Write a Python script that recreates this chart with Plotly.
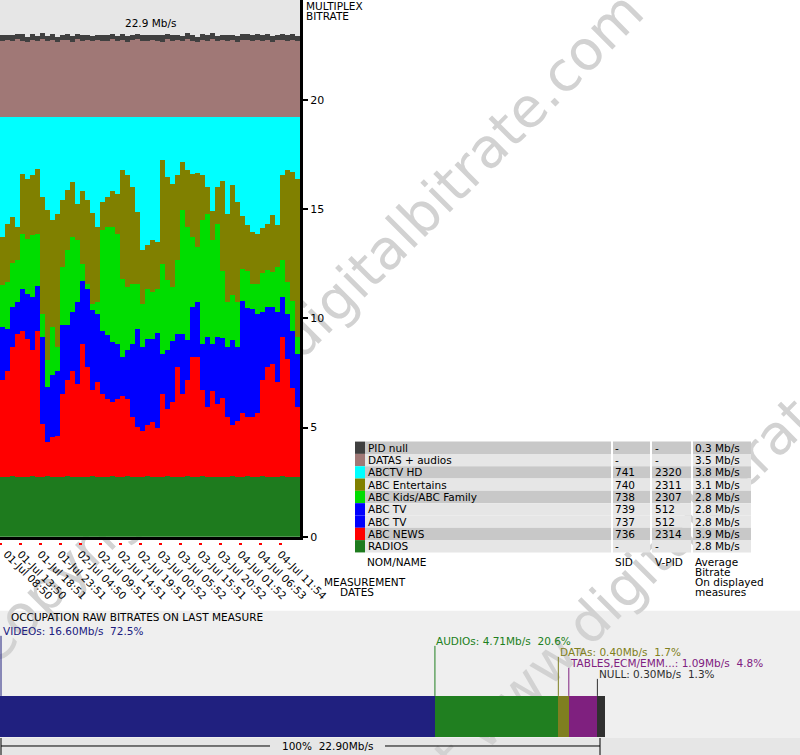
import base64
import plotly.graph_objects as go

# reference pixel space
W, H = 800, 755
# rendered figure size (the photograph compresses the page height slightly)
FIG_W, FIG_H = 800, 763
FONT = "DejaVu Sans"
FS = 10.5

# ---------------- data ----------------
tick_labels = ["01-Jul 08:50", "01-Jul 13:50", "01-Jul 18:51", "01-Jul 23:51",
               "02-Jul 04:50", "02-Jul 09:51", "02-Jul 14:51", "02-Jul 19:51",
               "03-Jul 00:52", "03-Jul 05:52", "03-Jul 15:51", "03-Jul 20:52",
               "04-Jul 01:52", "04-Jul 06:53", "04-Jul 11:54"]

radios = [2.75, 2.74, 2.76, 2.75, 2.73, 2.75, 2.76, 2.74, 2.75, 2.77,
          2.75, 2.74, 2.75, 2.76, 2.74, 2.75, 2.73, 2.75, 2.76, 2.75,
          2.74, 2.75, 2.77, 2.75, 2.74, 2.76, 2.75, 2.74, 2.75, 2.76,
          2.75, 2.73, 2.75, 2.76, 2.74, 2.75, 2.75, 2.77, 2.74, 2.75,
          2.76, 2.75, 2.74, 2.75, 2.73, 2.75, 2.76, 2.75, 2.74, 2.77,
          2.75, 2.74, 2.76, 2.75, 2.75, 2.74, 2.76, 2.75, 2.73, 2.75]
abc_news = [4.41, 4.86, 5.94, 6.55, 6.70, 6.32, 5.78, 6.70, 2.42, 1.58,
            1.81, 1.88, 3.79, 4.41, 4.86, 4.25, 6.09, 5.02, 3.95, 4.33,
            3.79, 3.57, 3.41, 3.57, 3.72, 3.57, 2.72, 2.27, 2.11, 2.34,
            2.49, 2.27, 3.79, 3.11, 3.41, 5.02, 3.79, 4.41, 5.48, 5.48,
            3.95, 3.18, 3.95, 3.34, 3.64, 2.72, 2.34, 2.57, 2.95, 2.72,
            2.72, 2.95, 4.41, 5.02, 5.17, 4.33, 6.39, 5.40, 4.10, 3.18]
abc_tv_737 = [1.19, 0.94, 0.93, 0.71, 0.94, 1.04, 1.21, 1.01, 1.96, 1.24,
              1.43, 1.46, 1.59, 1.24, 1.35, 1.85, 1.46, 1.77, 1.82, 1.55,
              1.44, 1.46, 1.35, 1.27, 0.86, 1.09, 1.67, 2.24, 1.93, 1.97,
              1.90, 2.16, 0.91, 1.34, 1.40, 0.75, 1.37, 0.91, 1.13, 1.25,
              1.06, 1.59, 1.08, 1.51, 1.36, 1.59, 1.94, 1.67, 2.55, 2.47,
              2.47, 2.24, 1.55, 1.36, 1.29, 1.59, 0.91, 1.02, 1.29, 1.21]
abc_tv_739 = [1.25, 0.98, 0.90, 0.74, 0.97, 1.02, 1.24, 1.05, 2.01, 1.28,
              1.40, 1.52, 1.55, 1.28, 1.33, 1.90, 1.44, 1.82, 1.85, 1.58,
              1.47, 1.44, 1.40, 1.25, 0.90, 1.12, 1.70, 2.27, 1.90, 2.01,
              1.93, 2.19, 0.93, 1.33, 1.43, 0.78, 1.39, 0.92, 1.16, 1.27,
              1.08, 1.62, 1.06, 1.54, 1.39, 1.63, 1.96, 1.70, 2.58, 2.50,
              2.50, 2.27, 1.58, 1.39, 1.31, 1.62, 0.93, 1.04, 1.31, 1.24]
abc_kids = [1.91, 2.13, 1.99, 1.91, 2.52, 2.52, 2.83, 2.37, 1.07, 1.22,
            2.21, 1.08, 2.67, 3.44, 3.44, 2.83, 0.77, 0.23, 0.30, 0.54,
            4.59, 4.97, 5.28, 5.04, 3.59, 2.91, 2.75, 2.06, 1.98, 2.29,
            2.14, 1.99, 4.13, 3.21, 2.45, 3.36, 5.65, 5.20, 3.21, 2.52,
            5.66, 5.66, 4.74, 5.20, 3.06, 2.06, 2.07, 2.06, 1.45, 1.69,
            1.15, 1.38, 1.76, 1.68, 1.61, 2.06, 1.68, 1.46, 1.38, 0.76]
abc_ent = [2.22, 2.68, 2.14, 1.53, 2.75, 2.76, 2.75, 2.99, 5.36, 6.88,
           4.90, 6.11, 3.06, 2.75, 2.52, 1.68, 3.36, 3.82, 4.13, 3.44,
           1.30, 1.38, 1.61, 1.84, 4.97, 5.12, 4.43, 3.29, 2.45, 1.99,
           2.37, 2.14, 4.74, 4.74, 4.74, 3.90, 2.22, 2.60, 2.90, 3.40,
           2.06, 1.22, 1.37, 1.68, 4.13, 4.05, 5.04, 4.59, 2.44, 2.14,
           2.37, 2.29, 2.06, 2.14, 2.59, 1.92, 3.90, 5.12, 5.88, 7.27]
abctv_hd = [5.50, 4.89, 4.58, 5.04, 2.60, 2.82, 2.67, 2.36, 3.66, 4.28,
            4.73, 4.43, 3.82, 3.36, 2.98, 3.97, 3.36, 3.82, 4.43, 5.04,
            3.89, 3.66, 3.43, 3.51, 2.44, 2.67, 3.21, 4.35, 6.11, 5.88,
            5.65, 5.73, 1.98, 2.75, 3.05, 2.67, 2.06, 2.44, 2.60, 2.56,
            2.67, 3.21, 4.28, 3.21, 2.90, 4.43, 3.13, 3.89, 4.51, 4.96,
            5.27, 5.35, 5.12, 4.89, 4.51, 4.96, 2.67, 2.44, 2.52, 2.82]
datas_audios = [3.48, 3.52, 3.45, 3.55, 3.50, 3.43, 3.53, 3.49, 3.56, 3.47,
                3.51, 3.44, 3.54, 3.50, 3.46, 3.57, 3.49, 3.52, 3.45, 3.53,
                3.50, 3.47, 3.55, 3.48, 3.52, 3.44, 3.51, 3.56, 3.49, 3.46,
                3.53, 3.50, 3.45, 3.54, 3.48, 3.52, 3.47, 3.55, 3.50, 3.44,
                3.51, 3.49, 3.56, 3.46, 3.53, 3.48, 3.50, 3.45, 3.54, 3.52,
                3.47, 3.55, 3.49, 3.51, 3.44, 3.53, 3.50, 3.48, 3.56, 3.46]
pid_null = [0.26, 0.24, 0.28, 0.25, 0.30, 0.23, 0.27, 0.25, 0.29, 0.24,
            0.27, 0.25, 0.22, 0.28, 0.26, 0.24, 0.29, 0.25, 0.27, 0.23,
            0.26, 0.28, 0.24, 0.25, 0.30, 0.26, 0.23, 0.27, 0.25, 0.28,
            0.24, 0.26, 0.29, 0.25, 0.27, 0.23, 0.26, 0.28, 0.25, 0.24,
            0.27, 0.25, 0.30, 0.24, 0.26, 0.28, 0.23, 0.27, 0.25, 0.26,
            0.29, 0.24, 0.26, 0.27, 0.25, 0.23, 0.28, 0.26, 0.24, 0.27]

table_names = ["PID null", "DATAS + audios", "ABCTV HD", "ABC Entertains",
               "ABC Kids/ABC Family", "ABC TV", "ABC TV", "ABC NEWS", "RADIOS"]
table_sid = ["-", "-", "741", "740", "738", "739", "737", "736", "-"]
table_vpid = ["-", "-", "2320", "2311", "2307", "512", "512", "2314", "-"]
table_avg = ["0.3 Mb/s", "3.5 Mb/s", "3.8 Mb/s", "3.1 Mb/s", "2.8 Mb/s",
             "2.8 Mb/s", "2.8 Mb/s", "3.9 Mb/s", "2.8 Mb/s"]
table_colors = ["#404040", "#a07876", "#00ffff", "#808000", "#00dd00",
                "#0000ff", "#0000ff", "#ff0000", "#1e7b1e"]
table_rowbg = ["#c8c8c8", "#e6e6e6", "#c8c8c8", "#e6e6e6", "#c8c8c8",
               "#e6e6e6", "#e6e6e6", "#c8c8c8", "#e6e6e6"]

stack_series = [radios, abc_news, abc_tv_737, abc_tv_739, abc_kids,
                abc_ent, abctv_hd, datas_audios, pid_null]
stack_names = ["RADIOS", "ABC NEWS", "ABC TV 737", "ABC TV 739",
               "ABC Kids/ABC Family", "ABC Entertains", "ABCTV HD",
               "DATAS + audios", "PID null"]
stack_colors = ["#1e7b1e", "#ff0000", "#0000ff", "#0000ff", "#00dd00",
                "#808000", "#00ffff", "#a07876", "#404040"]

occ_names = ["VIDEOs", "AUDIOs", "DATAs", "TABLES,ECM/EMM...", "NULL"]
occ_mbps = [16.60, 4.71, 0.40, 1.09, 0.30]
occ_pct = [72.5, 20.6, 1.7, 4.8, 1.3]
occ_colors = ["#20207f", "#207f20", "#7f7f20", "#7f207f", "#303030"]
occ_total = 22.90
mux_label = "22.9 Mb/s"


def fx(p):
    return p / W


def fy(p):
    return 1 - p / H


annotations = []
shapes = []


def text(x, y, s, color="#000000", size=FS, xanchor="left", yanchor="middle"):
    annotations.append(dict(x=fx(x), y=fy(y), xref="paper", yref="paper", text=s,
                            showarrow=False, xanchor=xanchor, yanchor=yanchor,
                            borderpad=0,
                            font=dict(family=FONT, size=size, color=color)))


def rect(x0, y0, x1, y1, color, layer="above"):
    shapes.append(dict(type="rect", xref="paper", yref="paper",
                       x0=fx(x0), x1=fx(x1), y0=fy(y1), y1=fy(y0),
                       fillcolor=color, line=dict(width=0), layer=layer))


def line(x0, y0, x1, y1, color, width=1):
    shapes.append(dict(type="line", xref="paper", yref="paper",
                       x0=fx(x0), x1=fx(x1), y0=fy(y0), y1=fy(y1),
                       line=dict(color=color, width=width)))


fig = go.Figure()

# full-page helper subplot (holds the watermark image, drawn below the charts)
fig.add_trace(go.Scatter(x=[0], y=[0], mode="markers", marker=dict(opacity=0),
                         hoverinfo="skip", showlegend=False, xaxis="x", yaxis="y"))

x_idx = list(range(len(radios)))
for s, n, c in zip(stack_series, stack_names, stack_colors):
    fig.add_trace(go.Bar(x=x_idx, y=s, name=n, marker=dict(color=c, line=dict(width=0)),
                         width=1, xaxis="x2", yaxis="y2", showlegend=False,
                         hoverinfo="skip"))
fig.add_trace(go.Scatter(x=[0], y=[0], mode="markers", marker=dict(opacity=0),
                         hoverinfo="skip", showlegend=False, xaxis="x4", yaxis="y2"))

for n, v, c in zip(occ_names, occ_mbps, occ_colors):
    fig.add_trace(go.Bar(x=[v], y=[0], orientation="h", name=n,
                         marker=dict(color=c, line=dict(width=0)), width=1,
                         xaxis="x3", yaxis="y3", showlegend=False, hoverinfo="skip"))

rect(0, 0, 300, 536, "#e6e6e6", layer="below")
rect(0, 610, 800, 737, "#efefef", layer="below")
rect(0, 737, 800, 755, "#e6e6e6", layer="below")

wm = "Copyright www.digitalbitrate.com"
svg = (
    f"<svg xmlns='http://www.w3.org/2000/svg' width='{W}' height='{H}' viewBox='0 0 {W} {H}' preserveAspectRatio='none'>"
    "<g font-family='DejaVu Sans' font-size='55' fill='#d2d2d2'>"
    f"<text x='307' y='328' text-anchor='middle' dominant-baseline='central' transform='rotate(-45 307 328)'>{wm}</text>"
    f"<text x='596' y='614' text-anchor='middle' dominant-baseline='central' transform='rotate(-45 596 614)'>{wm}</text>"
    "</g></svg>"
)
svg_uri = "data:image/svg+xml;base64," + base64.b64encode(svg.encode()).decode()

text(150, 23, mux_label, xanchor="center")
text(305, 6, "MULTIPLEX")
text(305, 16, "BITRATE")
text(365, 581, "MEASUREMENT", xanchor="center")
text(357, 591, "DATES", xanchor="center")

# rotated date labels, placed on the date axis ticks
tick_pos = [-0.49 + 4 * i for i in range(len(tick_labels))]
for i, (tp, lab) in enumerate(zip(tick_pos, tick_labels)):
    annotations.append(dict(x=tp, xref="x4", y=fy(546), yref="paper", text=lab,
                            showarrow=False, xanchor="left", yanchor="top",
                            textangle=45, borderpad=0,
                            xshift=(0 if i == 0 else -6),
                            font=dict(family=FONT, size=FS, color="#000000")))

ROW0, RH = 441.0, 12.3
for i in range(len(table_names)):
    y0 = ROW0 + i * RH
    y1 = y0 + RH
    rect(355, y0, 365, y1, table_colors[i])
    rect(365, y0, 611, y1, table_rowbg[i])
    rect(613, y0, 650, y1, table_rowbg[i])
    rect(652, y0, 691, y1, table_rowbg[i])
    rect(693, y0, 751, y1, table_rowbg[i])
    yc = (y0 + y1) / 2
    text(367, yc, table_names[i])
    text(614, yc, table_sid[i])
    text(654, yc, table_vpid[i])
    text(694, yc, table_avg[i])
text(366, 561, "NOM/NAME")
text(614, 561, "SID")
text(654, 561, "V-PID")
text(694, 561, "Average")
text(694, 571, "Bitrate")
text(694, 581, "On displayed")
text(694, 591, "measures")

text(10, 616, "OCCUPATION RAW BITRATES ON LAST MEASURE")
px_per_mb = 600.0 / occ_total
label_y = [630, 640, 651, 662, 673]
cum = 0.0
for n, v, p, c, ly in zip(occ_names, occ_mbps, occ_pct, occ_colors, label_y):
    xs = max(1.0, cum * px_per_mb)
    line(xs, ly + 5, xs, 695, c, 1)
    text(xs + 0.5, ly, f"{n}: {v:.2f}Mb/s\u00a0\u00a0{p}%", color=c)
    cum += v
line(1, 745, 270, 745, "#000000", 1)
line(385, 745, 600, 745, "#000000", 1)
line(1, 737, 1, 755, "#000000", 1)
line(600, 737, 600, 755, "#000000", 1)
text(328, 745, f"100%\u00a0\u00a0{occ_total:.2f}Mb/s", xanchor="center")

y_top = 536 / 21.8

fig.update_layout(
    width=FIG_W, height=FIG_H, autosize=False,
    margin=dict(l=0, r=0, t=0, b=0, pad=0),
    paper_bgcolor="#ffffff", plot_bgcolor="rgba(0,0,0,0)",
    barmode="stack", bargap=0, bargroupgap=0,
    showlegend=False,
    font=dict(family=FONT, size=FS, color="#000000"),
    xaxis=dict(domain=[0, 1], range=[0, W], visible=False, fixedrange=True),
    yaxis=dict(domain=[0, 1], range=[0, H], visible=False, fixedrange=True),
    xaxis2=dict(domain=[0, 300 / W], range=[-0.5, len(radios) - 0.5], anchor="y2",
                showline=True, linecolor="#000000", linewidth=3, ticks="",
                showticklabels=False, showgrid=False, zeroline=False),
    yaxis2=dict(domain=[fy(536), 1], range=[0, y_top], anchor="x2", side="right",
                showline=True, linecolor="#000000", linewidth=3, ticks="outside",
                ticklen=5, tickwidth=1.5, tickcolor="#000000",
                tickvals=[0, 5, 10, 15, 20], showgrid=False, zeroline=False,
                tickfont=dict(family=FONT, size=11, color="#000000")),
    xaxis4=dict(overlaying="x2", anchor="free", position=fy(541), side="bottom",
                range=[-0.5, len(radios) - 0.5], showline=False, showgrid=False,
                zeroline=False, ticks="outside", ticklen=2, tickwidth=3,
                tickcolor="#ff0000", tickvals=tick_pos, showticklabels=False),
    xaxis3=dict(domain=[0, 1], range=[0, occ_total * W / 600.0], anchor="y3",
                visible=False),
    yaxis3=dict(domain=[fy(736), fy(695)], range=[-0.5, 0.5], anchor="x3",
                visible=False),
    annotations=annotations,
    shapes=shapes,
    images=[dict(source=svg_uri, xref="x", yref="y", x=0, y=H, sizex=W, sizey=H,
                 xanchor="left", yanchor="top", sizing="stretch", layer="below")],
)

page_css = """
document.body.style.margin='0';
document.body.style.overflow='hidden';
document.documentElement.style.overflow='hidden';
"""

fig.write_html("out.html", config={"displayModeBar": False}, post_script=page_css)
